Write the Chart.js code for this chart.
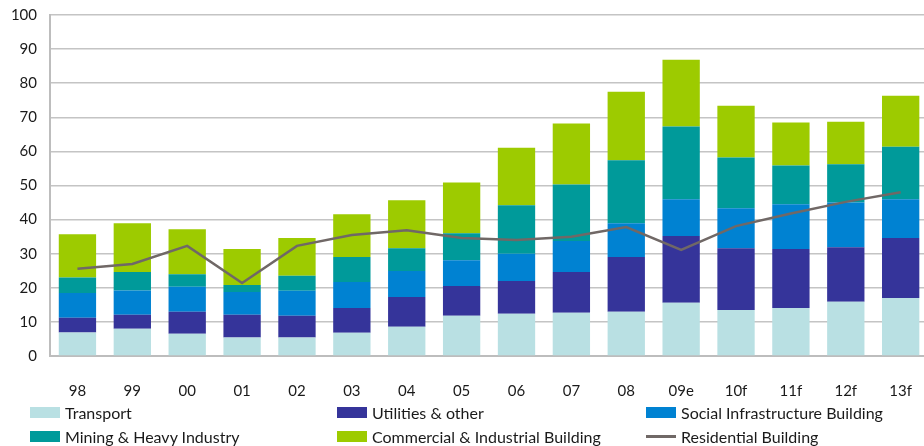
<!DOCTYPE html>
<html>
<head>
<meta charset="utf-8">
<script src="https://cdn.jsdelivr.net/npm/chart.js@4.4.0/dist/chart.umd.min.js"></script>
<style>
  html, body { margin: 0; padding: 0; background: #fff; overflow: hidden; }
  #wrap { position: absolute; left: 0; top: -7px; width: 930px; height: 407px; }
  #legend { position: absolute; left: 0; top: 0; width: 924px; height: 446px; pointer-events: none;
            font-family: Lato, "Open Sans", sans-serif; font-size: 16px; color: #1a1a1a; }
  .item { position: absolute; display: flex; align-items: center; white-space: nowrap; }
  .sw { width: 30px; height: 11px; margin-right: 5px; }
  .ln { width: 30px; height: 3px; margin-right: 5px; }
</style>
</head>
<body>
<div id="wrap"><canvas id="chart"></canvas></div>
<div id="legend"></div>
<script>
const years = ["98", "99", "00", "01", "02", "03", "04", "05", "06", "07", "08", "09e", "10f", "11f", "12f", "13f"];

// stacked segment heights (read from cumulative tops)
const transport  = [6.9, 8.0, 6.5, 5.4, 5.4, 6.8, 8.6, 11.8, 12.4, 12.7, 13.0, 15.6, 13.5, 14.1, 15.9, 17.0];
const utilities  = [4.3, 4.1, 6.5, 6.7, 6.4, 7.3, 8.7, 8.7, 9.6, 11.9, 16.0, 19.6, 18.1, 17.3, 16.0, 17.6];
const social     = [7.3, 7.1, 7.3, 6.7, 7.3, 7.6, 7.6, 7.6, 8.0, 9.1, 9.9, 10.8, 11.7, 13.1, 13.1, 11.4];
const mining     = [4.5, 5.4, 3.7, 2.0, 4.4, 7.3, 6.7, 7.9, 14.2, 16.6, 18.5, 21.3, 14.9, 11.4, 11.2, 15.4];
const commercial = [12.7, 14.3, 13.2, 10.6, 11.1, 12.6, 14.1, 14.9, 16.9, 17.9, 20.1, 19.6, 15.2, 12.6, 12.5, 14.9];
const residential = [25.6, 27.0, 32.3, 21.4, 32.3, 35.5, 36.9, 34.6, 34.0, 35.0, 37.8, 31.1, 38.1, 41.8, 45.2, 48.0];

const yMin = 0, yMax = 100, yStep = 10;

const barSeries = [
  { label: "Transport", data: transport, color: "#b9e0e3" },
  { label: "Utilities & other", data: utilities, color: "#35349a" },
  { label: "Social Infrastructure Building", data: social, color: "#0082d2" },
  { label: "Mining & Heavy Industry", data: mining, color: "#009a9a" },
  { label: "Commercial & Industrial Building", data: commercial, color: "#9dcb00" }
];
const lineColor = "#706866";

const datasets = barSeries.map(s => ({
  type: "bar",
  label: s.label,
  data: s.data,
  backgroundColor: s.color,
  borderWidth: 0,
  stack: "s",
  categoryPercentage: 1,
  barPercentage: 0.68,
  order: 2
}));

datasets.push({
  type: "line",
  label: "Residential Building",
  data: residential,
  borderColor: lineColor,
  borderWidth: 2.5,
  pointRadius: 0,
  tension: 0,
  order: 1
});

const ctx = document.getElementById("chart");
new Chart(ctx, {
  data: { labels: years, datasets },
  options: {
    responsive: true,
    maintainAspectRatio: false,
    animation: false,
    layout: { padding: { top: 7, right: 0, bottom: 0, left: 0 } },
    plugins: { legend: { display: false }, tooltip: { enabled: false } },
    scales: {
      x: {
        stacked: true,
        grid: { display: false },
        border: { color: "#bdbdbd", width: 2 },
        ticks: { color: "#1a1a1a", padding: 18, font: { family: "Lato", size: 15 } },
        afterFit: s => { s.height = 44; }
      },
      y: {
        stacked: true,
        min: yMin,
        max: yMax,
        ticks: { stepSize: yStep, color: "#1a1a1a", padding: 13, font: { family: "Lato", size: 15 } },
        grid: { color: "#c4c4c4", lineWidth: 1.5, drawTicks: false },
        border: { color: "#bdbdbd", width: 2 },
        afterFit: s => { s.width = 50; }
      }
    }
  }
});

// legend in 3 columns x 2 rows, same order as the reference
const legendEl = document.getElementById("legend");
const cols = [30, 337, 646];
const rows = [412, 436];
const entries = [
  ...barSeries.map(s => ({ label: s.label, color: s.color, line: false })),
  { label: "Residential Building", color: lineColor, line: true }
];
entries.forEach((e, i) => {
  const it = document.createElement("div");
  it.className = "item";
  it.style.left = cols[i % 3] + "px";
  it.style.top = (rows[Math.floor(i / 3)] - 10) + "px";
  it.style.height = "20px";
  const sw = document.createElement("span");
  sw.className = e.line ? "ln" : "sw";
  sw.style.background = e.color;
  const tx = document.createElement("span");
  tx.textContent = e.label;
  it.appendChild(sw);
  it.appendChild(tx);
  legendEl.appendChild(it);
});
</script>
</body>
</html>
